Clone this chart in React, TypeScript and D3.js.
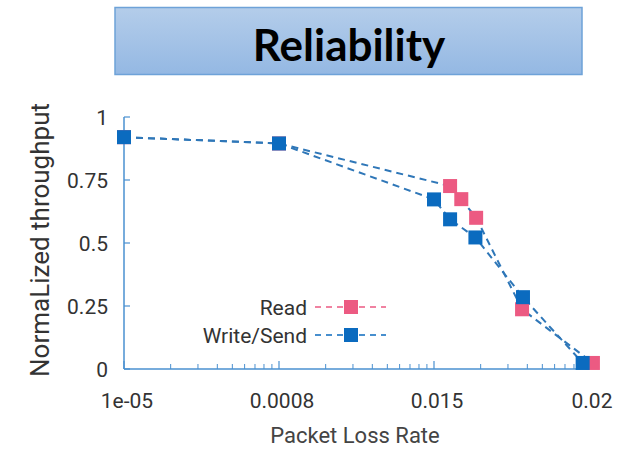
import React, { useEffect, useRef } from "react";
import * as d3 from "d3";

// x values are loss rates on a log axis, y values are normalized throughput
const readX = [1e-5, 1e-4, 1.27e-3, 1.5e-3, 1.87e-3, 3.7e-3, 1.06e-2];
const readY = [0.92, 0.895, 0.726, 0.674, 0.6, 0.237, 0.024];
const writeX = [1e-5, 1e-4, 1.0e-3, 1.27e-3, 1.85e-3, 3.75e-3, 9.1e-3];
const writeY = [0.92, 0.895, 0.673, 0.594, 0.522, 0.285, 0.024];

const xTickValues = [1e-5, 1e-4, 1e-3, 1e-2];
const xTickLabels = ["1e-05", "0.0008", "0.015", "0.02"];
const yTickValues = [0, 0.25, 0.5, 0.75, 1];
const yTickLabels = ["0", "0.25", "0.5", "0.75", "1"];

const seriesNames = ["Read", "Write/Send"];

const App = () => {
  const svgRef = useRef<SVGSVGElement | null>(null);

  useEffect(() => {
    if (!svgRef.current) return;
    const svg = d3.select(svgRef.current);
    svg.selectAll("*").remove();

    const axisColor = "#4a90d0";
    const lineColor = "#2f77b8";
    const pink = "#ec5a82";
    const blue = "#0b6bbf";
    const font = "Roboto, 'Noto Sans', sans-serif";

    // title banner
    const defs = svg.append("defs");
    const grad = defs
      .append("linearGradient")
      .attr("id", "banner")
      .attr("x1", 0)
      .attr("y1", 0)
      .attr("x2", 0)
      .attr("y2", 1);
    grad.append("stop").attr("offset", "0%").attr("stop-color", "#b4cdea");
    grad.append("stop").attr("offset", "100%").attr("stop-color", "#94b8e3");

    svg
      .append("rect")
      .attr("x", 115)
      .attr("y", 7.5)
      .attr("width", 467)
      .attr("height", 67)
      .attr("fill", "url(#banner)")
      .attr("stroke", "#6ea2d8")
      .attr("stroke-width", 1.5);

    svg
      .append("text")
      .attr("x", 349)
      .attr("y", 61)
      .attr("text-anchor", "middle")
      .style("font-family", "Lato, 'Open Sans', sans-serif")
      .style("font-weight", "bold")
      .style("font-size", "44px")
      .style("fill", "#000")
      .text("Reliability");

    const x = d3.scaleLog().domain([1e-5, 1e-2]).range([124, 589]);
    const y = d3.scaleLinear().domain([0, 1]).range([369, 117]);

    const g = svg.append("g");

    // axis lines
    g.append("line")
      .attr("x1", x(1e-5))
      .attr("x2", x(1e-5))
      .attr("y1", y(1))
      .attr("y2", y(0))
      .attr("stroke", axisColor)
      .attr("stroke-width", 1.5);
    g.append("line")
      .attr("x1", x(1e-5))
      .attr("x2", x(1e-2))
      .attr("y1", y(0))
      .attr("y2", y(0))
      .attr("stroke", axisColor)
      .attr("stroke-width", 1.5);

    // y ticks point inward
    g.selectAll(".ytick")
      .data(yTickValues)
      .enter()
      .append("line")
      .attr("x1", x(1e-5))
      .attr("x2", x(1e-5) + 6)
      .attr("y1", (d) => y(d))
      .attr("y2", (d) => y(d))
      .attr("stroke", axisColor)
      .attr("stroke-width", 1.2);

    g.selectAll(".ylabel")
      .data(yTickValues)
      .enter()
      .append("text")
      .attr("x", 108)
      .attr("y", (d) => y(d))
      .attr("dy", "0.36em")
      .attr("text-anchor", "end")
      .style("font-family", font)
      .style("font-size", "21px")
      .style("fill", "#333")
      .text((d, i) => yTickLabels[i]);

    // x ticks: log minor ticks, upward
    const minor: number[] = [];
    xTickValues.slice(0, -1).forEach((dec) => {
      for (let k = 2; k <= 9; k++) minor.push(dec * k);
    });
    g.selectAll(".xminor")
      .data(minor)
      .enter()
      .append("line")
      .attr("x1", (d) => x(d))
      .attr("x2", (d) => x(d))
      .attr("y1", y(0))
      .attr("y2", y(0) - 5)
      .attr("stroke", axisColor)
      .attr("stroke-width", 1);
    g.selectAll(".xmajor")
      .data(xTickValues)
      .enter()
      .append("line")
      .attr("x1", (d) => x(d))
      .attr("x2", (d) => x(d))
      .attr("y1", y(0))
      .attr("y2", y(0) - 8)
      .attr("stroke", axisColor)
      .attr("stroke-width", 1.2);

    g.selectAll(".xlabel")
      .data(xTickValues)
      .enter()
      .append("text")
      .attr("x", (d) => x(d) + 3)
      .attr("y", 408)
      .attr("text-anchor", "middle")
      .style("font-family", font)
      .style("font-size", "21px")
      .style("fill", "#333")
      .text((d, i) => xTickLabels[i]);

    // axis titles
    svg
      .append("text")
      .attr("x", 355)
      .attr("y", 443)
      .attr("text-anchor", "middle")
      .style("font-family", font)
      .style("font-size", "22px")
      .style("fill", "#444")
      .text("Packet Loss Rate");

    svg
      .append("text")
      .attr("transform", "translate(49, 240) rotate(-90)")
      .attr("text-anchor", "middle")
      .style("font-family", font)
      .style("font-size", "26px")
      .style("fill", "#333")
      .text("NormaLized throughput");

    // series
    const line = d3
      .line<[number, number]>()
      .x((d) => x(d[0]))
      .y((d) => y(d[1]));

    const readPts: [number, number][] = readX.map((v, i) => [v, readY[i]]);
    const writePts: [number, number][] = writeX.map((v, i) => [v, writeY[i]]);

    [readPts, writePts].forEach((pts) => {
      g.append("path")
        .attr("d", line(pts))
        .attr("fill", "none")
        .attr("stroke", lineColor)
        .attr("stroke-width", 2)
        .attr("stroke-dasharray", "7,5");
    });

    const size = 14;
    const drawMarkers = (pts: [number, number][], color: string) => {
      g.append("g")
        .selectAll("rect")
        .data(pts)
        .enter()
        .append("rect")
        .attr("x", (d) => x(d[0]) - size / 2)
        .attr("y", (d) => y(d[1]) - size / 2)
        .attr("width", size)
        .attr("height", size)
        .attr("fill", color);
    };
    drawMarkers(readPts, pink);
    drawMarkers(writePts, blue);

    // legend
    const legend = svg.append("g");
    const legendColors = [pink, blue];
    seriesNames.forEach((name, i) => {
      const ly = 307 + i * 28;
      legend
        .append("text")
        .attr("x", 307)
        .attr("y", ly)
        .attr("dy", "0.36em")
        .attr("text-anchor", "end")
        .style("font-family", font)
        .style("font-size", "21px")
        .style("fill", "#333")
        .text(name);
      legend
        .append("line")
        .attr("x1", 315)
        .attr("x2", 386)
        .attr("y1", ly)
        .attr("y2", ly)
        .attr("stroke", legendColors[i])
        .attr("stroke-width", 1.5)
        .attr("stroke-dasharray", "6,5");
      legend
        .append("rect")
        .attr("x", 351 - size / 2)
        .attr("y", ly - size / 2)
        .attr("width", size)
        .attr("height", size)
        .attr("fill", legendColors[i]);
    });
  }, []);

  return (
    <svg
      ref={svgRef}
      width={636}
      height={450}
      style={{ display: "block", position: "absolute", left: 0, top: 0 }}
    />
  );
};

export default App;
